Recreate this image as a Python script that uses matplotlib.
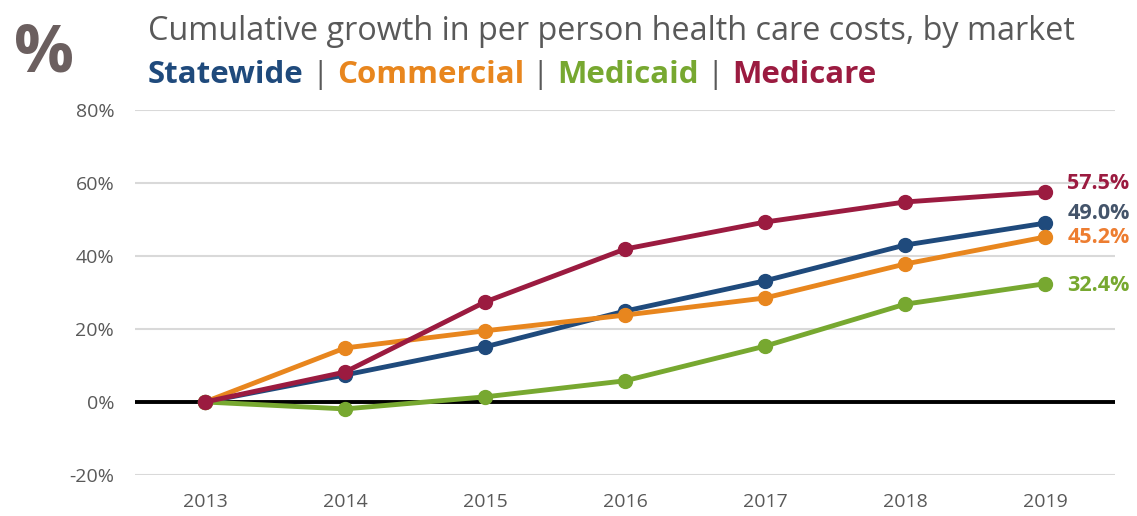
import matplotlib
matplotlib.use('Agg')
import matplotlib.pyplot as plt
from matplotlib.ticker import FuncFormatter

years = [2013, 2014, 2015, 2016, 2017, 2018, 2019]
statewide = [0, 7.4, 15.1, 24.9, 33.2, 43.0, 49.0]
commercial = [0, 14.8, 19.5, 23.8, 28.5, 37.8, 45.2]
medicaid = [0, -1.9, 1.4, 5.8, 15.3, 26.8, 32.4]
medicare = [0, 8.2, 27.4, 41.9, 49.3, 54.8, 57.5]

names = ['Statewide', 'Commercial', 'Medicaid', 'Medicare']
colors = ['#1F4A7C', '#E8861E', '#77A830', '#9B1B40']
label_colors = ['#44546A', '#ED7D31', '#77A830', '#9B1B40']
series = [statewide, commercial, medicaid, medicare]
label_nudge = [7, 0, -1, 6]   # points, to keep the end labels apart

plt.rcParams['font.family'] = ['Open Sans', 'DejaVu Sans']

fig = plt.figure(figsize=(11.37, 5.16), dpi=100)
ax = fig.add_axes([0.1187, 0.0795, 0.862, 0.7073])

ax.set_xlim(2012.5, 2019.5)
ax.set_ylim(-20, 80)
ax.set_yticks([-20, 0, 20, 40, 60, 80])
ax.set_xticks(years)
ax.yaxis.set_major_formatter(FuncFormatter(lambda v, p: '{:.0f}%'.format(v)))
ax.grid(axis='y', color='#D9D9D9', linewidth=1.5)
ax.axhline(0, color='black', linewidth=2.8, zorder=2)
for s in ax.spines.values():
    s.set_visible(False)
ax.tick_params(length=0, labelsize=14, labelcolor='#595959')
ax.tick_params(axis='y', pad=15)
ax.tick_params(axis='x', pad=13)

for vals, c in zip(series, colors):
    ax.plot(years, vals, color=c, linewidth=3.5, marker='o', markersize=10,
            zorder=3, clip_on=False)

for vals, c, dy in zip(series, label_colors, label_nudge):
    ax.annotate('{:.1f}%'.format(vals[-1]), (years[-1], vals[-1]),
                xytext=(16, dy), textcoords='offset points', va='center',
                ha='left', fontsize=15.5, fontweight='bold', color=c)

# header
fig.text(0.012, 0.862, '%', fontsize=48, fontweight='bold', color='#6B5F5F')
fig.text(0.130, 0.938, 'Cumulative growth in per person health care costs, by market',
         fontsize=23.3, color='#595959', va='center')

fig.canvas.draw()
r = fig.canvas.get_renderer()
x = 0.130
parts = []
for i, (n, c) in enumerate(zip(names, colors)):
    if i > 0:
        parts.append((' | ', '#595959', 'normal'))
    parts.append((n, c, 'bold'))
for txt, c, w in parts:
    t = fig.text(x, 0.855, txt, fontsize=22.5, color=c, fontweight=w, va='center')
    bb = t.get_window_extent(renderer=r)
    x += bb.width / fig.bbox.width

fig.savefig('out.png', dpi=100)
